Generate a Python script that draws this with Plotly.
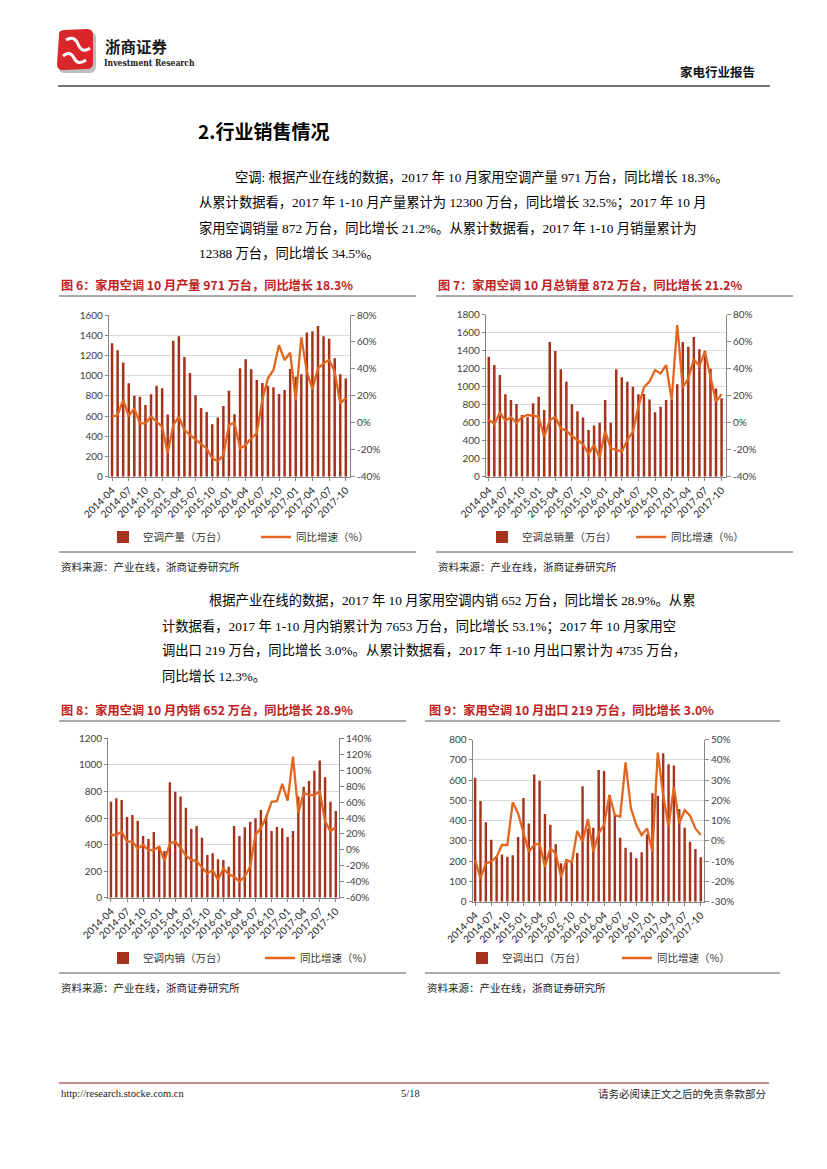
import plotly.graph_objects as go

W, H = 827, 1169


def px(x):
    return x / W


def py(y):
    return 1 - y / H


# ---------------- data ----------------
months = ["2014-04", "2014-05", "2014-06", "2014-07", "2014-08", "2014-09", "2014-10", "2014-11", "2014-12",
          "2015-01", "2015-02", "2015-03", "2015-04", "2015-05", "2015-06", "2015-07", "2015-08", "2015-09",
          "2015-10", "2015-11", "2015-12", "2016-01", "2016-02", "2016-03", "2016-04", "2016-05", "2016-06",
          "2016-07", "2016-08", "2016-09", "2016-10", "2016-11", "2016-12", "2017-01", "2017-02", "2017-03",
          "2017-04", "2017-05", "2017-06", "2017-07", "2017-08", "2017-09", "2017-10"]
tick_months = ["2014-04", "2014-07", "2014-10", "2015-01", "2015-04", "2015-07", "2015-10", "2016-01",
               "2016-04", "2016-07", "2016-10", "2017-01", "2017-04", "2017-07", "2017-10"]

# Fig 6: production (10k units) and YoY %
production = [1320, 1250, 1130, 925, 800, 790, 710, 815, 900, 875, 615, 1345, 1390, 1185, 1025, 805, 680, 640,
              520, 587, 700, 851, 617, 1072, 1161, 1062, 957, 927, 900, 884, 818, 858, 1066, 990, 1013, 1428,
              1438, 1491, 1389, 1366, 1171, 1013, 971]
production_yoy = [4.5, 5.8, 17, 5, 10.7, -0.4, -0.4, 4.5, 0.8, -2.9, -22.7, -1.6, 4.5, -5.4, -9, -12.3, -15.3,
                  -19, -26.4, -28.5, -24, -1.5, 0, -19, -16.5, -11.5, -7.8, 16.9, 33, 39.2, 57.7, 46.6, 52,
                  16.9, 63.4, 38, 25, 40.4, 44.1, 46.6, 38, 14.4, 18.3]

# Fig 7: total sales
sales = [1333, 1241, 1130, 915, 852, 807, 685, 660, 815, 889, 741, 1496, 1396, 1193, 1056, 804, 726, 659, 519,
         570, 600, 852, 600, 1193, 1104, 1056, 1000, 915, 919, 859, 715, 778, 852, 852, 1026, 1496, 1444, 1552,
         1415, 1400, 1200, 981, 872]
sales_yoy = [2.5, -1, 7.4, 1.5, 4, 0, 4, 5.7, 5.2, 4.4, -10.4, 1.5, 4.4, -4.2, -5.9, -9.9, -12.8, -16, -23.2,
             -16.5, -26, -6.2, -19, -20.2, -21.5, -12.8, -6.7, 11.9, 26.2, 30.4, 39, 36.5, 42.7, 16.8, 72.3,
             26.2, 32.8, 46.9, 42, 52.6, 32.8, 15.6, 21.2]

# Fig 8: domestic sales
domestic = [723, 748, 736, 608, 623, 580, 464, 442, 495, 390, 351, 869, 798, 761, 678, 520, 540, 452, 321, 334,
            289, 284, 233, 540, 464, 530, 572, 598, 660, 618, 502, 532, 522, 457, 502, 761, 836, 879, 956, 1032,
            906, 723, 652]
domestic_yoy = [18.7, 18.7, 22.8, 10.3, 10.3, 1.9, 6.1, -0.2, -0.2, 4, -14, 8.2, 10.3, 2.8, -7.3, -12.7, -14,
                -21.1, -29.5, -25.3, -37.8, -23.5, -30.6, -33.5, -39.8, -33.5, -20.9, 19, 27.4, 40.8, 60.2, 61,
                82.9, 61.8, 116.9, 46.3, 71.5, 68.6, 68.6, 73.6, 35.8, 23.2, 28.9]

# Fig 9: exports
exports = [612, 497, 392, 306, 225, 233, 222, 230, 320, 512, 386, 628, 597, 433, 380, 284, 190, 210, 200, 240,
           570, 362, 365, 650, 645, 527, 428, 316, 267, 244, 214, 244, 333, 535, 523, 733, 679, 672, 458, 365,
           296, 260, 219]
exports_yoy = [-9.4, -18.5, -11.1, -10.2, -7.8, -2, -2, 19.1, 13.6, 4.6, -5.3, -2, -1.2, -12.7, -3.7, -6.2,
               -17.7, -9.4, -10.6, 4.9, -0.4, 10.8, -5.3, 3.7, 7.9, 22.7, 12.8, 12, 38.8, 16.1, 7.9, 2.9, 6.2,
               -5.3, 43.7, 22.7, 7, 26.8, 8.7, 15.3, 12.5, 6.2, 3.0]

bar_names = ["空调产量（万台）", "空调总销量（万台）", "空调内销（万台）", "空调出口（万台）"]
line_name = "同比增速（%）"

left_ticks = [[0, 200, 400, 600, 800, 1000, 1200, 1400, 1600],
              [0, 200, 400, 600, 800, 1000, 1200, 1400, 1600, 1800],
              [0, 200, 400, 600, 800, 1000, 1200],
              [0, 100, 200, 300, 400, 500, 600, 700, 800]]
right_ticks = [[-40, -20, 0, 20, 40, 60, 80],
               [-40, -20, 0, 20, 40, 60, 80],
               [-60, -40, -20, 0, 20, 40, 60, 80, 100, 120, 140],
               [-30, -20, -10, 0, 10, 20, 30, 40, 50]]
right_labels = [["-40%", "-20%", "0%", "20%", "40%", "60%", "80%"],
                ["-40%", "-20%", "0%", "20%", "40%", "60%", "80%"],
                ["-60%", "-40%", "-20%", "0%", "20%", "40%", "60%", "80%", "100%", "120%", "140%"],
                ["-30%", "-20%", "-10%", "0%", "10%", "20%", "30%", "40%", "50%"]]

bar_series = [production, sales, domestic, exports]
yoy_series = [production_yoy, sales_yoy, domestic_yoy, exports_yoy]

# ---------------- styles / layout geometry (pixels) ----------------
BAR_C = "#A5321A"
LINE_C = "#E2661F"
AXIS_C = "#868686"
GRID_C = "#D9D9D9"
TXT_C = "#404040"
CJK = "Noto Sans CJK SC"
SERIF = "Liberation Serif, Noto Sans CJK SC"
TICKF = "Lato, Noto Sans CJK SC"

panels = [
    dict(x0=109, x1=350, y0=315, y1=476.7, xr=[-0.55, 42.75], leg=(103, 537), ew=108),
    dict(x0=486, x1=726, y0=314.7, y1=476.7, xr=[-0.5, 42.8], leg=(482, 537), ew=104),
    dict(x0=108.3, x1=339, y0=738.3, y1=897.7, xr=[-0.5, 42.6], leg=(103, 958), ew=112),
    dict(x0=472.7, x1=704, y0=739.7, y1=901.7, xr=[-0.45, 42.6], leg=(462, 958), ew=110),
]

fig = go.Figure()
layout = {}
for i, p in enumerate(panels):
    n = i + 1
    xid = "x" if n == 1 else f"x{n}"
    ylid = "y" if n == 1 else f"y{2 * n - 1}"
    yrid = f"y{2 * n}"
    xkey = "xaxis" if n == 1 else f"xaxis{n}"
    ylkey = "yaxis" if n == 1 else f"yaxis{2 * n - 1}"
    yrkey = f"yaxis{2 * n}"
    legkey = "legend" if n == 1 else f"legend{n}"

    fig.add_trace(go.Bar(x=months, y=bar_series[i], xaxis=xid, yaxis=ylid, name=bar_names[i],
                         marker=dict(color=BAR_C, line=dict(width=0)), width=0.45, legend=legkey))
    fig.add_trace(go.Scatter(x=months, y=yoy_series[i], xaxis=xid, yaxis=yrid, name=line_name,
                             mode="lines", line=dict(color=LINE_C, width=2.3), legend=legkey))

    layout[xkey] = dict(domain=[px(p["x0"]), px(p["x1"])], anchor=ylid, type="category",
                        categoryorder="array", categoryarray=months, range=p["xr"],
                        tickmode="array", tickvals=tick_months, ticktext=tick_months, tickangle=-45,
                        showline=True, linecolor=AXIS_C, linewidth=1, ticks="outside", ticklen=3,
                        tickcolor=AXIS_C, showgrid=False, zeroline=False, automargin=False,
                        tickfont=dict(family=TICKF, size=10, color="#222222"))
    lt = left_ticks[i]
    layout[ylkey] = dict(domain=[py(p["y1"]), py(p["y0"])], anchor=xid, range=[lt[0], lt[-1]],
                         tickmode="array", tickvals=lt, ticktext=[str(v) for v in lt],
                         showgrid=True, gridcolor=GRID_C, gridwidth=1, showline=True, linecolor=AXIS_C,
                         linewidth=1.3, ticks="outside", ticklen=3, tickcolor=AXIS_C, zeroline=False,
                         automargin=False, tickfont=dict(family=TICKF, size=10, color=TXT_C))
    rt = right_ticks[i]
    layout[yrkey] = dict(overlaying=ylid, side="right", anchor=xid, range=[rt[0], rt[-1]],
                         tickmode="array", tickvals=rt, ticktext=right_labels[i],
                         showgrid=False, showline=True, linecolor=AXIS_C, linewidth=1,
                         ticks="outside", ticklen=4, tickcolor=AXIS_C, zeroline=False, automargin=False,
                         tickfont=dict(family=TICKF, size=10, color=TXT_C))
    layout[legkey] = dict(x=px(p["leg"][0]), y=py(p["leg"][1]), xanchor="left", yanchor="middle",
                          orientation="h", bgcolor="rgba(0,0,0,0)", borderwidth=0,
                          entrywidth=p["ew"], entrywidthmode="pixels", itemwidth=30,
                          font=dict(family=CJK, size=10.5, color="#333333"))

# ---------------- text ----------------
ann = []


def text(s, x, y, size, color="#000000", family=SERIF, anchor="left", bold=False):
    ann.append(dict(text=(f"<b>{s}</b>" if bold else s), x=px(x), y=py(y), xref="paper", yref="paper",
                    xanchor=anchor, yanchor="middle", showarrow=False,
                    font=dict(size=size, color=color, family=family)))


# header
text("浙商证券", 103, 46, 15.5, "#1a1a1a", CJK, bold=True)
text("Investment Research", 102, 63, 8.5, "#1a1a1a", "DejaVu Serif Condensed, Liberation Serif", bold=True)
text("家电行业报告", 757, 71, 12.5, "#111111", CJK, anchor="right", bold=True)

# section heading
text("2.行业销售情况", 196, 131, 19, "#000000", CJK, bold=True)

body1 = ["空调: 根据产业在线的数据，2017 年 10 月家用空调产量 971 万台，同比增长 18.3%。",
         "从累计数据看，2017 年 1-10 月产量累计为 12300 万台，同比增长 32.5%；2017 年 10 月",
         "家用空调销量 872 万台，同比增长 21.2%。从累计数据看，2017 年 1-10 月销量累计为",
         "12388 万台，同比增长 34.5%。"]
body1_pos = [(233, 177), (197, 203), (197, 228), (197, 253)]
for s, (x, y) in zip(body1, body1_pos):
    text(s, x, y, 13.3)

body2 = ["根据产业在线的数据，2017 年 10 月家用空调内销 652 万台，同比增长 28.9%。从累",
         "计数据看，2017 年 1-10 月内销累计为 7653 万台，同比增长 53.1%；2017 年 10 月家用空",
         "调出口 219 万台，同比增长 3.0%。从累计数据看，2017 年 1-10 月出口累计为 4735 万台，",
         "同比增长 12.3%。"]
body2_pos = [(207, 600), (160, 626), (160, 651), (160, 676)]
for s, (x, y) in zip(body2, body2_pos):
    text(s, x, y, 13.3)

titles = ["图 6：家用空调 10 月产量 971 万台，同比增长 18.3%",
          "图 7：家用空调 10 月总销量 872 万台，同比增长 21.2%",
          "图 8：家用空调 10 月内销 652 万台，同比增长 28.9%",
          "图 9：家用空调 10 月出口 219 万台，同比增长 3.0%"]
title_pos = [(59, 285), (436, 285), (59, 710), (427, 710)]
for s, (x, y) in zip(titles, title_pos):
    text(s, x, y, 12.2, "#C0201A", CJK, bold=True)

src = "资料来源：产业在线，浙商证券研究所"
for (x, y) in [(59, 566), (436, 566), (59, 987), (425, 987)]:
    text(src, x, y, 10.5, "#222222", CJK)

# footer
text("http://research.stocke.com.cn", 59, 1093, 10.5, "#222222", "Liberation Serif")
text("5/18", 410, 1093, 10.5, "#222222", "Liberation Serif", anchor="center")
text("请务必阅读正文之后的免责条款部分", 768, 1093, 10.5, "#222222", CJK, anchor="right")

# ---------------- shapes ----------------
shapes = []


def hline(x0, x1, y, color, w):
    shapes.append(dict(type="line", xref="paper", yref="paper", x0=px(x0), x1=px(x1), y0=py(y), y1=py(y),
                       line=dict(color=color, width=w)))


hline(58, 770, 86, "#444444", 1.5)
hline(59, 769, 1083, "#8B1A1A", 1.2)
for (x0, x1, y) in [(59, 416, 296), (436, 793, 296), (59, 406, 721), (425, 780, 721),
                    (59, 416, 552), (436, 793, 552), (59, 406, 973), (425, 780, 973)]:
    hline(x0, x1, y, "#555555", 1)


def P(x, y):
    return f"{px(x)},{py(y)}"


# logo (shadow, red body, white swirl)
shadow = (f"M {P(62, 35)} Q {P(60, 32)} {P(65, 32)} L {P(90, 32)} Q {P(96, 32)} {P(96, 38)} "
          f"L {P(96, 66)} Q {P(96, 73)} {P(90, 73)} L {P(64, 73)} Q {P(59, 73)} {P(59, 67)} Z")
shapes.append(dict(type="path", xref="paper", yref="paper", path=shadow, fillcolor="#BDBDBD",
                   line=dict(width=0)))
body = (f"M {P(59, 36)} Q {P(58, 30)} {P(64, 30)} L {P(87, 29)} Q {P(93, 29)} {P(93, 35)} "
        f"L {P(93, 63)} Q {P(93, 69)} {P(87, 69)} L {P(63, 70)} Q {P(57, 70)} {P(57, 64)} Z")
shapes.append(dict(type="path", xref="paper", yref="paper", path=body, fillcolor="#D9262B",
                   line=dict(width=0)))
swirl = f"M {P(66, 40)} Q {P(74, 35)} {P(78, 44)} Q {P(82, 54)} {P(90, 48)}"
shapes.append(dict(type="path", xref="paper", yref="paper", path=swirl, line=dict(color="white", width=3)))
swirl2 = f"M {P(63, 56)} Q {P(70, 50)} {P(74, 58)} Q {P(78, 66)} {P(86, 60)}"
shapes.append(dict(type="path", xref="paper", yref="paper", path=swirl2, line=dict(color="white", width=3)))

fig.update_layout(width=W, height=H, margin=dict(l=0, r=0, t=0, b=0, autoexpand=False),
                  paper_bgcolor="white", plot_bgcolor="white", barmode="overlay", showlegend=True,
                  annotations=ann, shapes=shapes, **layout)

fig.write_html("out.html", config={"displayModeBar": False},
               post_script="document.body.style.margin='0';document.body.style.overflow='hidden';")
